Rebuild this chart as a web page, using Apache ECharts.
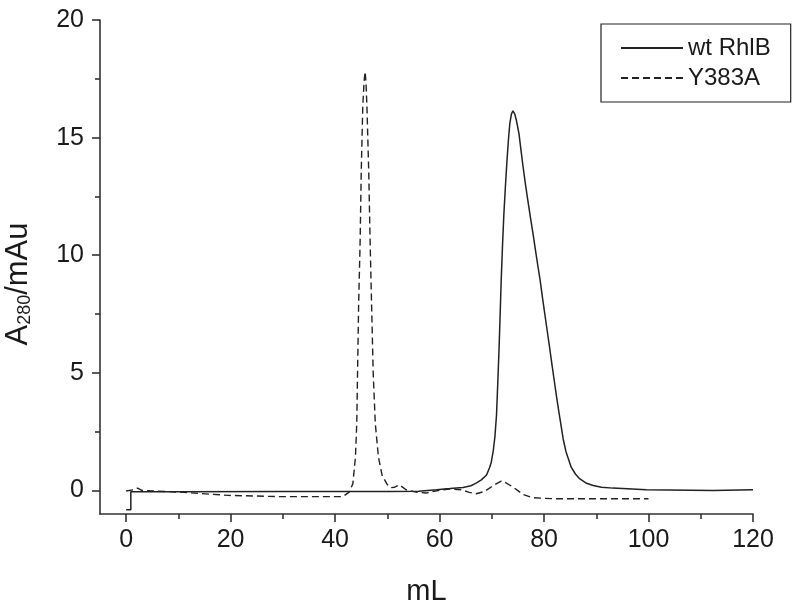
<!DOCTYPE html>
<html>
<head>
<meta charset="utf-8">
<script src="https://cdn.jsdelivr.net/npm/echarts@6/dist/echarts.min.js"></script>
<style>
  html, body { margin: 0; padding: 0; background: #fff; }
  #chart { width: 800px; height: 607px; }
</style>
</head>
<body>
<div id="chart"></div>
<script>
// ---- data ----
const seriesNames = ['wt RhlB', 'Y383A'];

// wt RhlB: [mL, A280 (mAu)]
const wtRhlB = [
  [0, -0.82], [0.9, -0.82], [0.9, -0.05], [10, -0.05], [30, -0.04], [50, -0.04],
  [56, -0.03], [59.4, 0.03], [62, 0.08], [64.5, 0.13], [66, 0.2], [67, 0.31],
  [68, 0.45], [69, 0.66], [69.6, 0.99], [69.9, 1.2], [70.3, 1.72], [70.6, 2.3],
  [70.9, 3.2], [71.15, 4.6], [71.4, 6.1], [71.6, 7.5], [71.8, 8.94], [72.05, 10.4],
  [72.3, 11.7], [72.6, 12.9], [72.9, 14.0], [73.2, 14.95], [73.45, 15.6],
  [73.75, 16.0], [74.05, 16.14], [74.4, 16.0], [74.7, 15.74], [75.2, 15.17],
  [75.6, 14.45], [76.0, 13.74], [76.45, 13.0], [76.9, 12.33], [77.4, 11.6],
  [77.9, 10.9], [78.4, 10.15], [78.85, 9.5], [79.25, 8.94], [79.7, 8.2],
  [80.15, 7.5], [80.6, 6.8], [81.05, 6.1], [81.55, 5.3], [82.0, 4.6],
  [82.45, 3.9], [82.9, 3.26], [83.3, 2.7], [83.65, 2.2], [84.2, 1.65],
  [85.2, 0.99], [86.0, 0.7], [86.8, 0.5], [88.0, 0.32], [89.4, 0.21], [91, 0.14],
  [93.2, 0.1], [99.6, 0.03], [112.3, 0.0], [120, 0.03]
];

// Y383A: [mL, A280 (mAu)]
const y383a = [
  [0, -0.02], [1.5, 0.03], [2.2, 0.1], [3, 0.0], [10.2, -0.07], [19.7, -0.21],
  [29.3, -0.26], [41.5, -0.26], [42.7, -0.07], [43.4, 0.28], [43.9, 1.42],
  [44.15, 2.84], [44.3, 4.97], [44.5, 7.8], [44.8, 10.64], [45.0, 13.48],
  [45.3, 16.3], [45.55, 17.4], [45.75, 17.8], [45.9, 17.4], [46.1, 16.3],
  [46.45, 13.48], [46.7, 10.64], [47.0, 7.8], [47.3, 4.97], [47.7, 2.84],
  [48.3, 1.42], [49.0, 0.65], [50.0, 0.25], [50.7, 0.12], [51.4, 0.14],
  [52.3, 0.24], [53.6, 0.03], [55.5, -0.07], [57.4, -0.11], [59.7, 0.0],
  [61.9, 0.06], [64.1, 0.03], [65.7, -0.08], [67, -0.14], [68.6, -0.04],
  [70.5, 0.24], [71.8, 0.4], [72.5, 0.35], [74.1, 0.14], [76, -0.17],
  [77.9, -0.31], [81.7, -0.35], [100, -0.35]
];

// tick labels
const xTicks = [0, 20, 40, 60, 80, 100, 120];
const xMinorTicks = [10, 30, 50, 70, 90, 110];
const yTicks = [0, 5, 10, 15, 20];
const yMinorTicks = [2.5, 7.5, 12.5, 17.5];

// ---- chart ----
const FONT = '"Liberation Sans", Arial, Helvetica, sans-serif';
const INK = '#1a1a1a';
const AX = '#333';
const chart = echarts.init(document.getElementById('chart'), null, { renderer: 'canvas' });

const xRange = { min: -5, max: 120 };
const yRange = { min: -1, max: 20 };

chart.setOption({
  animation: false,
  backgroundColor: '#fff',
  grid: { left: 100, right: 47, top: 20, bottom: 93, containLabel: false, outerBoundsMode: 'none' },
  legend: {
    orient: 'vertical',
    left: 601, top: 24,
    padding: [12, 20, 12, 19],
    itemGap: 6,
    itemWidth: 62,
    itemHeight: 24,
    borderColor: '#222',
    borderWidth: 1.2,
    borderRadius: 0,
    data: seriesNames,
    itemStyle: { opacity: 0 },
    textStyle: { fontFamily: FONT, fontSize: 24, color: INK }
  },
  xAxis: [
    {
      type: 'value', min: xRange.min, max: xRange.max,
      name: 'mL', nameLocation: 'middle', nameGap: 63,
      nameTextStyle: { fontFamily: FONT, fontSize: 29, color: INK },
      axisLine: { show: true, onZero: false, lineStyle: { color: AX, width: 1.6 } },
      axisTick: { show: true, length: 8, customValues: xTicks, lineStyle: { color: AX, width: 1.6 } },
      axisLabel: { show: true, margin: 14, customValues: xTicks, fontFamily: FONT, fontSize: 25, color: INK },
      splitLine: { show: false }
    },
    {
      type: 'value', min: xRange.min, max: xRange.max, position: 'bottom', offset: 0,
      axisLine: { show: false, onZero: false },
      axisTick: { show: true, length: 5, customValues: xMinorTicks, lineStyle: { color: AX, width: 1.6 } },
      axisLabel: { show: false },
      splitLine: { show: false }
    }
  ],
  yAxis: [
    {
      type: 'value', min: yRange.min, max: yRange.max,
      name: '{a|A}{s|280}{a|/mAu}', nameLocation: 'middle', nameGap: 66, nameRotate: 90,
      nameTextStyle: {
        fontFamily: FONT, color: INK, padding: [0, 34, 0, 0],
        rich: {
          a: { fontFamily: FONT, fontSize: 31, color: INK },
          s: { fontFamily: FONT, fontSize: 18, color: INK, lineHeight: 10, verticalAlign: 'bottom' }
        }
      },
      axisLine: { show: true, onZero: false, lineStyle: { color: AX, width: 1.6 } },
      axisTick: { show: true, length: 8, customValues: yTicks, lineStyle: { color: AX, width: 1.6 } },
      axisLabel: { show: true, margin: 16, customValues: yTicks, fontFamily: FONT, fontSize: 25, color: INK },
      splitLine: { show: false }
    },
    {
      type: 'value', min: yRange.min, max: yRange.max, position: 'left', offset: 0,
      axisLine: { show: false, onZero: false },
      axisTick: { show: true, length: 5, customValues: yMinorTicks, lineStyle: { color: AX, width: 1.6 } },
      axisLabel: { show: false },
      splitLine: { show: false }
    }
  ],
  series: [
    {
      name: seriesNames[0], type: 'line', data: wtRhlB, xAxisIndex: 0, yAxisIndex: 0,
      symbol: 'none', smooth: false,
      lineStyle: { color: '#222', width: 1.5, type: 'solid' },
      itemStyle: { color: '#222' }
    },
    {
      name: seriesNames[1], type: 'line', data: y383a, xAxisIndex: 0, yAxisIndex: 0,
      symbol: 'none', smooth: false,
      lineStyle: { color: '#222', width: 1.4, type: [7, 4] },
      itemStyle: { color: '#222' }
    }
  ]
});
</script>
</body>
</html>
